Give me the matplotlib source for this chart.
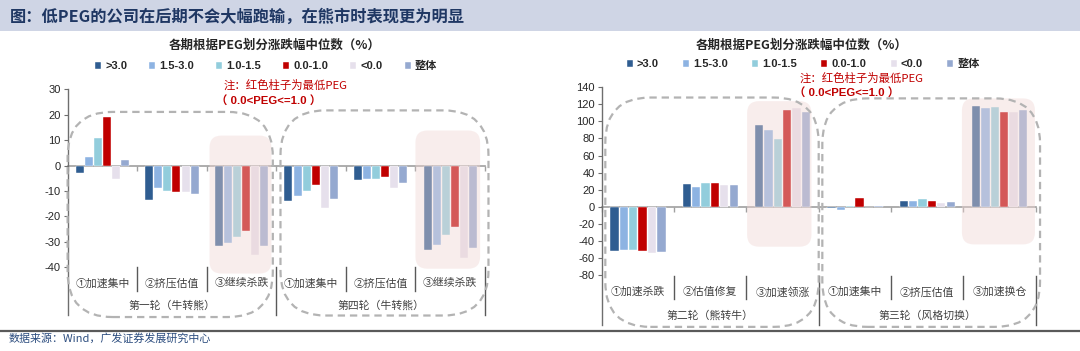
import matplotlib
matplotlib.use('Agg')
import matplotlib.pyplot as plt
from matplotlib.patches import FancyBboxPatch, Rectangle
from matplotlib.lines import Line2D

# ---------------- data ----------------
series = ['>3.0', '1.5-3.0', '1.0-1.5', '0.0-1.0', '<0.0', '整体']
colors = ['#2f5d91', '#8db3e2', '#92cddc', '#c00000', '#e6e0ec', '#95a9d0']

left_phases = ['①加速集中', '②挤压估值', '③继续杀跌', '①加速集中', '②挤压估值', '③继续杀跌']
left_rounds = ['第一轮（牛转熊）', '第四轮（牛转熊）']
left_gt3 = [-3.1, -13.4, -31.8, -13.9, -5.6, -33.2]
left_15_30 = [3.5, -8.8, -30.6, -11.8, -5.4, -31.4]
left_10_15 = [10.8, -10.0, -28.2, -10.1, -5.4, -27.2]
left_00_10 = [19.0, -10.4, -25.7, -7.6, -4.6, -24.3]
left_lt0 = [-5.3, -10.6, -35.0, -16.8, -8.9, -36.5]
left_all = [2.1, -11.2, -31.5, -13.3, -6.7, -32.3]
left_yticks = [-40, -30, -20, -10, 0, 10, 20, 30]

right_phases = ['①加速杀跌', '②估值修复', '③加速领涨', '①加速集中', '②挤压估值', '③加速换仓']
right_rounds = ['第二轮（熊转牛）', '第三轮（风格切换）']
right_gt3 = [-52.0, 26.4, 95.7, -1.2, 6.7, 118.2]
right_15_30 = [-51.2, 23.3, 90.2, -3.5, 6.7, 115.5]
right_10_15 = [-50.4, 27.2, 79.3, 0.8, 8.7, 117.1]
right_00_10 = [-52.0, 27.2, 113.6, 9.9, 6.7, 111.2]
right_lt0 = [-54.8, 25.7, 115.9, -0.4, 4.3, 111.2]
right_all = [-53.2, 25.7, 111.3, 0.4, 5.5, 113.6]
right_yticks = [-80, -60, -40, -20, 0, 20, 40, 60, 80, 100, 120, 140]

fig_title = '图：低PEG的公司在后期不会大幅跑输，在熊市时表现更为明显'
chart_title = '各期根据PEG划分涨跌幅中位数（%）'
note1 = '注：红色柱子为最低PEG'
note2 = '（ 0.0<PEG<=1.0 ）'
source = '数据来源：Wind，广发证券发展研究中心'

# ---------------- figure ----------------
W, H = 1080, 351
fig = plt.figure(figsize=(W / 100, H / 100), dpi=100)
CJK = ['Noto Sans CJK SC', 'DejaVu Sans']
LAT = ['Liberation Sans', 'Noto Sans CJK SC', 'DejaVu Sans']


def fx(px):
    return px / W


def fy(py):
    return 1 - py / H


# banner
fig.add_artist(Rectangle((0, fy(31)), 1, 31 / H, transform=fig.transFigure,
                         facecolor='#cfd5e5', edgecolor='none', zorder=0))
fig.text(fx(10), fy(16), fig_title, family=CJK, weight='bold', fontsize=11.7,
         color='#1f3763', va='center', ha='left')
# bottom rule + source
fig.add_artist(Line2D([0, 1], [fy(330.5), fy(330.5)], transform=fig.transFigure,
                      color='#5a5a5a', lw=1.6))
fig.text(fx(9), fy(338), source, family=CJK, fontsize=7.9, color='#2b4c7e',
         va='center', ha='left')


def to_in(ax, x, y):
    d = ax.transData.transform((x, y))
    return fig.dpi_scale_trans.inverted().transform(d)


def rbox(ax, x0, x1, y0, y1, r_px, **kw):
    a = to_in(ax, x0, y0)
    b = to_in(ax, x1, y1)
    p = FancyBboxPatch((a[0], a[1]), b[0] - a[0], b[1] - a[1],
                       boxstyle=f'round,pad=0,rounding_size={r_px / 100}',
                       transform=fig.dpi_scale_trans, clip_on=False, **kw)
    ax.add_patch(p)


def draw(rect, data, phases, rounds, ylim, yticks, lab_y, rnd_y, sep_top, sep_bot,
         pinks, dashes, title_xy, leg_xy, colsp, note_xy):
    ax = fig.add_axes(rect)
    ax.set_xlim(0, 6)
    ax.set_ylim(*ylim)
    n = len(series)
    step, width = 0.13, 0.115
    handles = []
    for i, (vals, c) in enumerate(zip(data, colors)):
        xs = [g + 0.5 + (i - (n - 1) / 2) * step for g in range(len(vals))]
        b = ax.bar(xs, vals, width=width, color=c, edgecolor='white', linewidth=0.3,
                   zorder=2, label=series[i])
        handles.append(b)
    # spines/ticks
    for s in ['top', 'right']:
        ax.spines[s].set_visible(False)
    ax.spines['left'].set_color('#6e6e6e')
    ax.spines['left'].set_linewidth(1.0)
    ax.spines['bottom'].set_position(('data', 0))
    ax.spines['bottom'].set_color('#a0a0a0')
    ax.spines['bottom'].set_linewidth(1.2)
    ax.spines['bottom'].set_zorder(1)
    ax.set_xticks(range(7))
    ax.set_xticklabels([])
    ax.tick_params(axis='x', direction='out', length=3.5, width=1, color='#a0a0a0')
    ax.set_yticks(yticks)
    ax.set_yticklabels([str(v) for v in yticks], family=LAT, fontsize=8, color='#262626')
    ax.tick_params(axis='y', direction='out', length=3, width=0.8, color='#6e6e6e', pad=2)
    ax.patch.set_alpha(0)
    # category labels and separators
    for g, lab in enumerate(phases):
        ax.text(g + 0.5, lab_y, lab, family=CJK, fontsize=7.8, color='#404040',
                ha='center', va='center', clip_on=False)
    for k, lab in enumerate(rounds):
        ax.text(3 * k + 1.5, rnd_y, lab, family=CJK, fontsize=7.8, color='#404040',
                ha='center', va='center', clip_on=False)
    for b in [1, 2, 4, 5]:
        ax.plot([b, b], [sep_top, sep_bot], color='#595959', lw=1.0, clip_on=False, zorder=3)
    for b in [3, 6]:
        ax.plot([b, b], [sep_top, ylim[0]], color='#595959', lw=1.0, clip_on=False, zorder=3)
    # pink highlight overlays
    for (x0, x1, y0, y1) in pinks:
        rbox(ax, x0, x1, y0, y1, 12, facecolor='#f0d6d4', edgecolor='none', alpha=0.42, zorder=4)
    # dashed rounded frames
    for (x0, x1, y0, y1) in dashes:
        rbox(ax, x0, x1, y0, y1, 45, facecolor='none', edgecolor='#b3b3b3', lw=1.6,
             linestyle=(0, (3.3, 2.2)), zorder=5)
    # titles / legend / note
    fig.text(fx(title_xy[0]), fy(title_xy[1]), chart_title, family=CJK, weight='bold',
             fontsize=9, color='#262626', ha='center', va='center')
    leg = fig.legend(handles=handles, labels=series, loc='center',
                     bbox_to_anchor=(fx(leg_xy[0]), fy(leg_xy[1])), ncol=6, frameon=False,
                     handlelength=0.55, handleheight=0.55, handletextpad=0.35,
                     columnspacing=colsp, prop={'family': LAT, 'weight': 'bold', 'size': 8})
    for t in leg.get_texts():
        t.set_color('#262626')
    fig.text(fx(note_xy[0]), fy(note_xy[1]), note1, family=CJK, fontsize=8.2,
             color='#c00000', ha='center', va='center')
    fig.text(fx(note_xy[2]), fy(note_xy[3]), note2, family=LAT, weight='bold', fontsize=8.2,
             color='#c00000', ha='center', va='center')
    return ax


left_data = [left_gt3, left_15_30, left_10_15, left_00_10, left_lt0, left_all]
right_data = [right_gt3, right_15_30, right_10_15, right_00_10, right_lt0, right_all]

draw([fx(67.6), fy(315), (485 - 67.6) / W, (315 - 89.3) / H],
     left_data, left_phases, left_rounds, (-58.8, 30), left_yticks,
     -46.3, -55.1, -40.0, -49.2,
     pinks=[(2.04, 2.93, -42.5, 11.8), (5.0, 5.93, -40.6, 13.8)],
     dashes=[(0.0, 2.95, -59.6, 21.1), (3.06, 6.05, -59.0, 21.7)],
     title_xy=(275, 45), leg_xy=(266, 66), colsp=2.0, note_xy=(286, 85, 269, 100))

draw([fx(601.7), fy(325), (1035.7 - 601.7) / W, (325 - 87.3) / H],
     right_data, right_phases, right_rounds, (-138.8, 140), right_yticks,
     -100.2, -127.8, -80.9, -108.5,
     pinks=[(2.01, 2.9, -47.0, 123.8), (4.98, 5.99, -44.3, 127.0)],
     dashes=[(0.05, 3.0, -141.0, 128.0), (3.05, 6.06, -141.0, 127.0)],
     title_xy=(802, 45), leg_xy=(803, 64), colsp=2.2, note_xy=(862, 78, 847, 92))

fig.savefig('out.png', dpi=100)
